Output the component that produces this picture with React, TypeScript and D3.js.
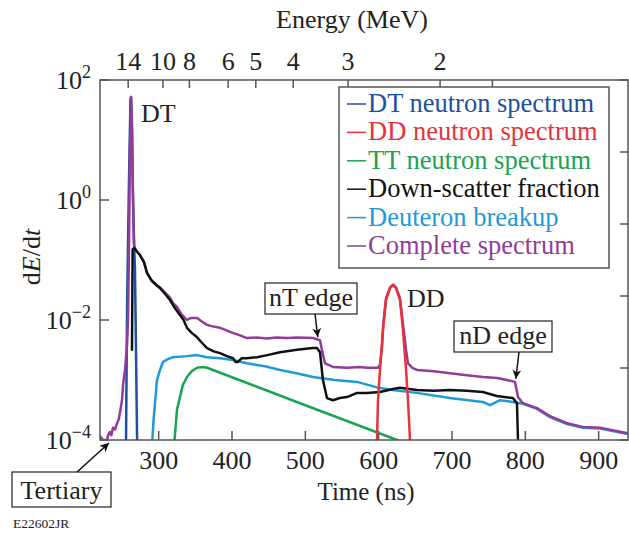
import React, { useEffect, useRef } from 'react';
import * as d3 from 'd3';

// time of flight (ns) -> value (dE/dt)
const dtSpectrum: [number, number][] = [
  [255.5, 1e-4], [257, 0.02], [259.5, 2], [261.5, 45], [262.3, 52], [263.5, 20],
  [265, 1.2], [266.4, 0.2], [267.7, 0.067], [269, 0.004], [270.5, 1.2e-4], [271.5, 5e-5],
];

const ddSpectrum: [number, number][] = [
  [596, 5e-5], [597.7, 1e-4], [599.1, 4.6e-4], [601.8, 1.47e-3], [605.9, 6.8e-3], [610, 0.0215],
  [615.5, 0.034], [619.5, 0.038], [623.6, 0.034], [629.1, 0.0215], [633.2, 6.8e-3],
  [637.3, 1.5e-3], [640, 4.6e-4], [642.7, 1e-4], [644, 5e-5],
];

const ttSpectrum: [number, number][] = [
  [321, 8e-5], [325, 3.2e-4], [329, 5.2e-4], [333, 8.3e-4], [338.6, 1.12e-3], [345, 1.4e-3],
  [352.3, 1.6e-3], [360.5, 1.65e-3], [366, 1.6e-3], [500, 3.8e-4], [625, 1e-4], [640, 8.5e-5],
];

const downScatter: [number, number][] = [
  [263.6, 3.2e-3], [264.5, 0.15], [266.4, 0.158], [270, 0.14], [274.5, 0.121], [280, 0.093],
  [284.1, 0.061], [290, 0.046], [297, 0.038], [301.8, 0.034], [308, 0.028], [315.5, 0.0215],
  [322, 0.0158], [329, 0.0121], [334, 0.01], [338.6, 0.0074], [345, 0.0061], [352, 0.0052],
  [358, 0.0043], [366, 0.0034], [375, 0.003], [383.6, 0.0028], [393, 0.0025], [401.4, 0.0023],
  [405, 0.0020], [408, 0.0020], [413, 0.0023], [420, 0.0023], [434, 0.0024], [448, 0.0026],
  [465.5, 0.0029], [488.6, 0.0032], [510, 0.0034], [516, 0.0034], [520, 0.0029], [524, 1e-3],
  [529.5, 5e-4], [537.7, 4.6e-4], [547, 5e-4], [556.8, 5.2e-4], [570.5, 6.1e-4], [584, 6.1e-4],
  [601.8, 6.3e-4], [619.5, 7.1e-4], [629, 7.4e-4], [652, 6.8e-4], [675, 6.6e-4], [697, 6.8e-4],
  [720, 6.6e-4], [742, 6.3e-4], [761, 5.4e-4], [783, 5e-4], [788.6, 4.1e-4], [790, 1e-4],
  [790.5, 5e-5],
];

const deuteronBreakup: [number, number][] = [
  [290.9, 8e-5], [293, 2.15e-4], [297.7, 1e-3], [301.8, 1.47e-3], [305.9, 2e-3], [312, 2.2e-3],
  [319.5, 2.4e-3], [338.6, 2.5e-3], [352.3, 2.6e-3], [365.9, 2.4e-3], [383.6, 2.3e-3],
  [401, 2.15e-3], [420.5, 1.9e-3], [445, 1.7e-3], [465.5, 1.47e-3], [488, 1.3e-3],
  [510.5, 1.12e-3], [540, 1e-3], [570.5, 9.3e-4], [600, 7.4e-4], [619, 6.8e-4], [652, 6.1e-4],
  [697, 5e-4], [742, 4.3e-4], [751.8, 3.8e-4], [765.5, 4.6e-4], [783, 4.3e-4], [792.7, 4.1e-4],
  [796.8, 4e-4], [815.9, 3.3e-4], [833.6, 2.4e-4], [856.8, 1.85e-4], [878.6, 1.6e-4],
  [901.8, 1.55e-4], [940, 1.26e-4],
];

const completeSpectrum: [number, number][] = [
  [220, 1.15e-4], [224, 1e-4], [229.5, 1e-4], [231, 1.2e-4], [233.6, 1.36e-4], [235.5, 1.2e-4],
  [237.7, 1.6e-4], [240.5, 1.5e-4], [243.2, 1.9e-4], [245.5, 2.2e-4], [247.3, 2.9e-4],
  [250, 4.6e-4], [251.4, 8.3e-4], [254.1, 1.47e-3], [256.8, 3.8e-3], [258.2, 0.01],
  [259.5, 0.15], [260.9, 6.8], [262.3, 52], [263.6, 14.7], [265, 1], [266.4, 0.18],
  [267.7, 0.158], [270, 0.14], [274.5, 0.121], [280, 0.09], [284.1, 0.061], [290, 0.046],
  [296, 0.039], [301.8, 0.035], [308, 0.029], [315, 0.024], [320, 0.019], [325, 0.0165],
  [331, 0.0125], [338.6, 0.01], [342, 0.0106], [345, 0.0108], [352.3, 0.0108], [358, 0.0096],
  [365.9, 0.0083], [372, 0.0079], [383.6, 0.0074], [390, 0.0069], [401, 0.0061], [410, 0.0056],
  [420.5, 0.005], [434, 0.0051], [447.7, 0.0049], [460, 0.0051], [475, 0.005], [490, 0.0051],
  [510.5, 0.005], [520, 0.0046], [523, 0.003], [526.8, 0.0019], [537.7, 0.00165],
  [556.8, 0.0016], [574.5, 0.00165], [584, 0.0016], [599, 0.0016], [601.8, 0.0018],
  [604.5, 0.0035], [605.9, 0.0075], [610, 0.023], [615.5, 0.035], [619.5, 0.039],
  [623.6, 0.035], [629.1, 0.023], [633.2, 0.0085], [637.3, 0.0032], [640, 0.0019],
  [646, 0.0016], [652.3, 0.00147], [675, 0.0014], [697.3, 0.0013], [720, 0.0012],
  [742.3, 0.00112], [761.4, 0.00108], [775, 0.001], [785.9, 0.00093], [790, 0.00052],
  [796.8, 0.00041], [815.9, 0.00034], [833.6, 0.00025], [856.8, 0.00019], [878.6, 0.000165],
  [901.8, 0.00016], [940, 0.00013],
];

const timeTicks = [300, 400, 500, 600, 700, 800, 900];
const decadeTicks = [1e2, 1e0, 1e-2, 1e-4];
const decadeLabels = ['2', '0', '\u22122', '\u22124'];
const energyTicks = [14, 10, 8, 6, 5, 4, 3, 2, 1.64];
const energyLabels = ['14', '10', '8', '6', '5', '4', '3', '2', ''];
const tofConstant = 967; // ns * sqrt(MeV) for this detector distance

const legendNames = [
  'DT neutron spectrum', 'DD neutron spectrum', 'TT neutron spectrum',
  'Down-scatter fraction', 'Deuteron breakup', 'Complete spectrum',
];
const legendColors = ['#1f4f9f', '#e8323b', '#19a352', '#111111', '#1e9bd7', '#923b99'];

const FONT = '"Liberation Serif", "Times New Roman", serif';

export default function App() {
  const ref = useRef<SVGSVGElement>(null);

  useEffect(() => {
    const svg = d3.select(ref.current);
    svg.selectAll('*').remove();

    const left = 100, right = 628, top = 80, bottom = 440;
    const x = d3.scaleLinear().domain([220, 940]).range([left, right]);
    const y = d3.scaleLog().domain([1e-4, 1e2]).range([bottom, top]);
    const yRight = d3.scaleLinear().domain([0, 5]).range([bottom, top]);
    const axisColor = '#555';

    const defs = svg.append('defs');
    defs.append('clipPath').attr('id', 'plot-clip')
      .append('rect').attr('x', left).attr('y', top).attr('width', right - left).attr('height', bottom - top);
    defs.append('marker').attr('id', 'arrow').attr('viewBox', '0 0 10 10')
      .attr('refX', 10).attr('refY', 5).attr('markerWidth', 9).attr('markerHeight', 9)
      .attr('markerUnits', 'userSpaceOnUse').attr('orient', 'auto')
      .append('path').attr('d', 'M0,0 L10,5 L0,10 L3,5 Z').attr('fill', '#111');

    // ticks
    const tg = svg.append('g').attr('stroke', axisColor).attr('stroke-width', 1.5);
    timeTicks.forEach(t => {
      tg.append('line').attr('x1', x(t)).attr('x2', x(t)).attr('y1', bottom).attr('y2', bottom - 9);
    });
    decadeTicks.forEach(v => {
      tg.append('line').attr('x1', left).attr('x2', left + 9).attr('y1', y(v)).attr('y2', y(v));
    });
    d3.range(0, 6).forEach(i => {
      tg.append('line').attr('x1', right).attr('x2', right - 8).attr('y1', yRight(i)).attr('y2', yRight(i));
    });
    energyTicks.forEach(e => {
      const tx = x(tofConstant / Math.sqrt(e));
      tg.append('line').attr('x1', tx).attr('x2', tx).attr('y1', top).attr('y2', top + 8);
    });

    // curves
    const line = d3.line<[number, number]>()
      .x(d => x(d[0]))
      .y(d => y(d[1]));
    const curves = svg.append('g').attr('clip-path', 'url(#plot-clip)')
      .attr('fill', 'none').attr('stroke-linejoin', 'round').attr('stroke-linecap', 'round');
    const drawOrder: [[number, number][], string][] = [
      [dtSpectrum, legendColors[0]],
      [ttSpectrum, legendColors[2]],
      [deuteronBreakup, legendColors[4]],
      [completeSpectrum, legendColors[5]],
      [downScatter, legendColors[3]],
      [ddSpectrum, legendColors[1]],
    ];
    drawOrder.forEach(([data, color]) => {
      curves.append('path').attr('d', line(data)).attr('stroke', color).attr('stroke-width', 2.5);
    });

    // frame
    svg.append('rect').attr('x', left).attr('y', top).attr('width', right - left).attr('height', bottom - top)
      .attr('fill', 'none').attr('stroke', axisColor).attr('stroke-width', 1.5);

    // tick labels
    timeTicks.forEach(t => {
      svg.append('text').attr('x', x(t)).attr('y', 469).attr('text-anchor', 'middle')
        .style('font-family', FONT).style('font-size', '26px').attr('fill', '#222').text(t);
    });
    energyTicks.forEach((e, i) => {
      svg.append('text').attr('x', x(tofConstant / Math.sqrt(e))).attr('y', 70).attr('text-anchor', 'middle')
        .style('font-family', FONT).style('font-size', '26px').attr('fill', '#222').text(energyLabels[i]);
    });
    decadeTicks.forEach((v, i) => {
      const t = svg.append('text').attr('x', 91).attr('y', y(v) + 9).attr('text-anchor', 'end')
        .style('font-family', FONT).style('font-size', '26px').attr('fill', '#222');
      t.append('tspan').text('10');
      t.append('tspan').attr('dy', -11).style('font-size', '18px').text(decadeLabels[i]);
    });

    // axis titles
    svg.append('text').attr('x', 352).attr('y', 28).attr('text-anchor', 'middle')
      .style('font-family', FONT).style('font-size', '26px').attr('fill', '#222').text('Energy (MeV)');
    svg.append('text').attr('x', 366).attr('y', 500).attr('text-anchor', 'middle')
      .style('font-family', FONT).style('font-size', '25px').attr('fill', '#222').text('Time (ns)');
    const yl = svg.append('text').attr('transform', 'translate(40,257) rotate(-90)').attr('text-anchor', 'middle')
      .style('font-family', FONT).style('font-size', '26px').attr('fill', '#222');
    yl.append('tspan').text('d');
    yl.append('tspan').style('font-style', 'italic').text('E');
    yl.append('tspan').text('/d');
    yl.append('tspan').style('font-style', 'italic').text('t');

    // legend
    const lg = svg.append('g');
    lg.append('rect').attr('x', 339).attr('y', 87).attr('width', 270).attr('height', 181)
      .attr('fill', '#fff').attr('stroke', axisColor).attr('stroke-width', 1.5);
    legendNames.forEach((name, i) => {
      const by = 112 + i * 28.4;
      lg.append('line').attr('x1', 347).attr('x2', 366).attr('y1', by - 8).attr('y2', by - 8)
        .attr('stroke', legendColors[i]).attr('stroke-width', 1.5);
      lg.append('text').attr('x', 368).attr('y', by).attr('fill', legendColors[i])
        .style('font-family', FONT).style('font-size', '26.5px').text(name);
    });

    // annotations
    const label = (tx: number, ty: number, s: string) =>
      svg.append('text').attr('x', tx).attr('y', ty).style('font-family', FONT)
        .style('font-size', '26px').attr('fill', '#222').text(s);
    label(141, 122, 'DT');
    label(407, 307, 'DD');

    const boxed = (bx: number, byy: number, bw: number, bh: number, s: string) => {
      svg.append('rect').attr('x', bx).attr('y', byy).attr('width', bw).attr('height', bh)
        .attr('fill', '#fff').attr('stroke', '#222').attr('stroke-width', 1.2);
      svg.append('text').attr('x', bx + bw / 2).attr('y', byy + bh - 8).attr('text-anchor', 'middle')
        .style('font-family', FONT).style('font-size', '26px').attr('fill', '#222').text(s);
    };
    const arrow = (x1: number, y1: number, x2: number, y2: number) => {
      svg.append('line').attr('x1', x1).attr('y1', y1).attr('x2', x2).attr('y2', y2)
        .attr('stroke', '#111').attr('stroke-width', 1.5).attr('marker-end', 'url(#arrow)');
    };
    boxed(265, 283, 92, 31, 'nT edge');
    arrow(315, 314, x(517), y(0.0052));
    boxed(454, 321, 98, 31, 'nD edge');
    arrow(519, 352, x(787), y(0.00105));
    boxed(12, 472, 99, 35, 'Tertiary');
    arrow(77, 472, 109, 443);

    svg.append('text').attr('x', 13).attr('y', 528).style('font-family', FONT)
      .style('font-size', '13.5px').attr('fill', '#222').text('E22602JR');
  }, []);

  return (
    <svg ref={ref} width={629} height={539}
      style={{ position: 'absolute', left: 0, top: 0, background: '#fff' }} />
  );
}
